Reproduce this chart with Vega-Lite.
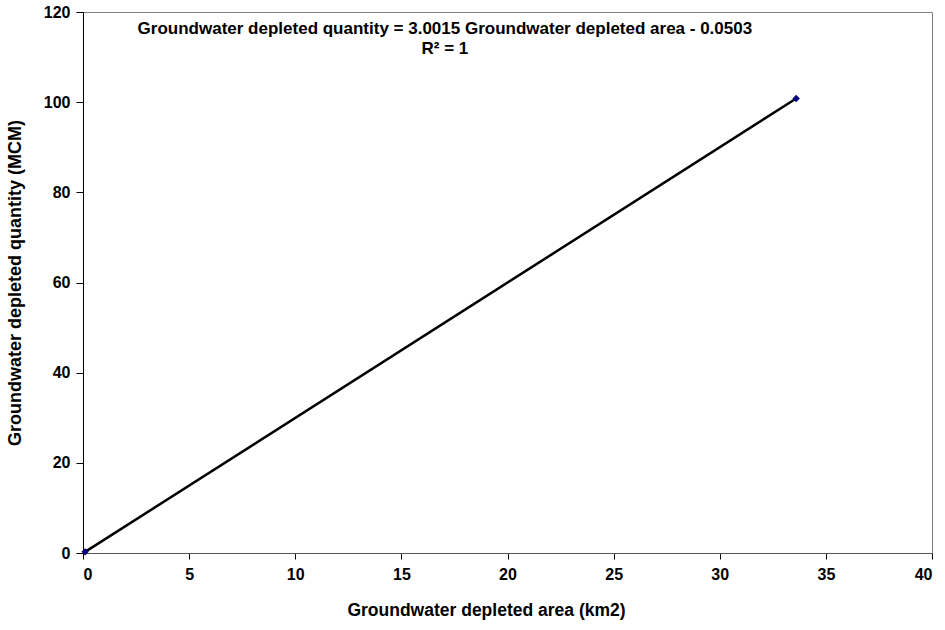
{
  "$schema": "https://vega.github.io/schema/vega-lite/v6.json",
  "autosize": "none",
  "width": 849,
  "height": 541,
  "padding": {"left": 83, "top": 12, "right": 13, "bottom": 77},
  "background": "white",
  "config": {
    "view": {"stroke": "#808080", "strokeWidth": 1},
    "font": "Liberation Sans",
    "axis": {"labelFontWeight": "bold", "titleFontWeight": "bold", "labelFont": "Arial", "labelFontSize": 16, "labelColor": "black"}
  },
  "datasets": {
    "pts": [
      {"area": 0.1, "qty": 0.25},
      {"area": 33.6, "qty": 100.8}
    ],
    "ann": [
      {"area": 17.05, "qty": 116.2, "label": "Groundwater depleted quantity = 3.0015 Groundwater depleted area - 0.0503"},
      {"area": 17.05, "qty": 111.8, "label": "R² = 1"}
    ]
  },
  "layer": [
    {
      "data": {"name": "pts"},
      "mark": {"type": "line", "color": "black", "strokeWidth": 2.5},
      "encoding": {
        "x": {
          "field": "area", "type": "quantitative",
          "scale": {"domain": [0, 40], "nice": false, "zero": true},
          "axis": {
            "title": "Groundwater depleted area (km2)",
            "values": [0, 5, 10, 15, 20, 25, 30, 35, 40],
            "grid": false,
            "domainColor": "#555555",
            "tickColor": "black",
            "tickSize": 6,
            "labelFont": "Arial", "labelFontSize": 16, "labelFontWeight": "bold", "labelColor": "black",
            "labelPadding": 7,
            "titleFont": "Liberation Sans", "titleFontSize": 17.5, "titleFontWeight": "bold", "titleColor": "black",
            "titlePadding": 19,
            "titleX": 403,
            "titleAlign": "center"
          }
        },
        "y": {
          "field": "qty", "type": "quantitative",
          "scale": {"domain": [0, 120], "nice": false},
          "axis": {
            "title": "Groundwater depleted quantity (MCM)",
            "values": [0, 20, 40, 60, 80, 100, 120],
            "grid": false,
            "domainColor": "black",
            "tickColor": "black",
            "tickSize": 7,
            "labelFont": "Arial", "labelFontSize": 16, "labelFontWeight": "bold", "labelColor": "black",
            "labelPadding": 6,
            "titleFont": "Liberation Sans", "titleFontSize": 18, "titleFontWeight": "bold", "titleColor": "black",
            "titlePadding": 19
          }
        }
      }
    },
    {
      "data": {"name": "pts"},
      "mark": {"type": "point", "shape": "diamond", "filled": true, "color": "#000080", "size": 55, "opacity": 1},
      "encoding": {
        "x": {"field": "area", "type": "quantitative"},
        "y": {"field": "qty", "type": "quantitative"}
      }
    },
    {
      "data": {"name": "ann"},
      "mark": {"type": "text", "font": "Liberation Sans", "fontSize": 17, "fontWeight": "bold", "color": "black", "align": "center", "baseline": "middle"},
      "encoding": {
        "x": {"field": "area", "type": "quantitative"},
        "y": {"field": "qty", "type": "quantitative"},
        "text": {"field": "label"}
      }
    }
  ]
}
